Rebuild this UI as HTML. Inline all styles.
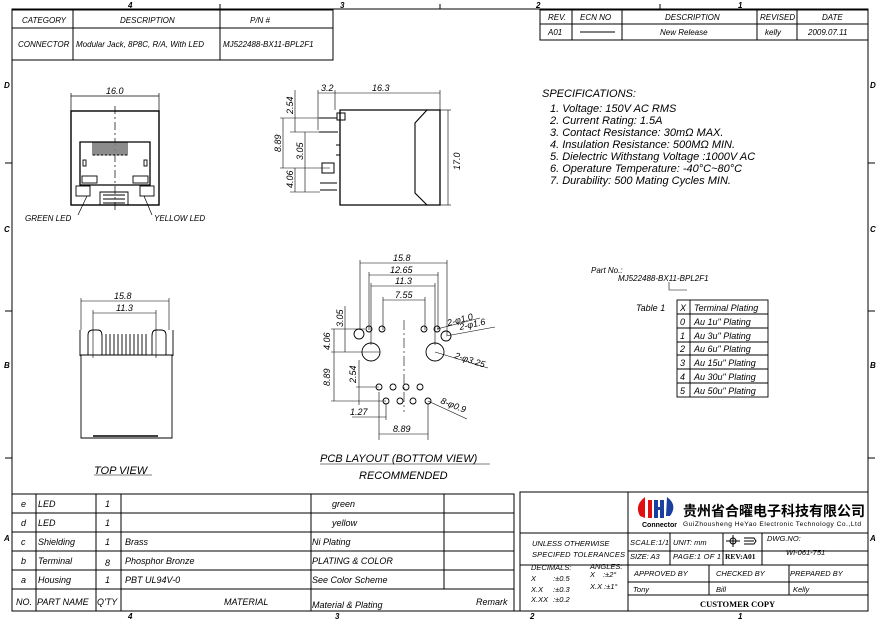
<!DOCTYPE html>
<html><head><meta charset="utf-8"><style>
html,body{margin:0;padding:0;background:#fff;}
svg{display:block;}
text{font-family:"Liberation Sans","Noto Sans CJK SC",sans-serif;font-style:italic;fill:#000;}
.n{font-style:normal;}
</style></head><body>
<svg width="880" height="622" viewBox="0 0 880 622" xmlns="http://www.w3.org/2000/svg">
<rect x="0" y="0" width="880" height="622" fill="#fff"/>
<g stroke="#000" fill="none" stroke-width="1">
<rect x="12" y="9" width="856" height="602"/>
<line x1="220" y1="4" x2="220" y2="9"/><line x1="440" y1="4" x2="440" y2="9"/><line x1="660" y1="4" x2="660" y2="9"/>
<line x1="5" y1="163" x2="12" y2="163"/><line x1="5" y1="311" x2="12" y2="311"/><line x1="5" y1="458" x2="12" y2="458"/>
<line x1="868" y1="163" x2="875" y2="163"/><line x1="868" y1="311" x2="875" y2="311"/><line x1="868" y1="458" x2="875" y2="458"/>
<rect x="12" y="10" width="321" height="50"/>
<line x1="12" y1="28" x2="333" y2="28"/>
<line x1="73" y1="10" x2="73" y2="60"/><line x1="220" y1="10" x2="220" y2="60"/>
<rect x="540" y="10" width="328" height="30"/>
<line x1="540" y1="24" x2="868" y2="24"/>
<line x1="572" y1="10" x2="572" y2="40"/><line x1="622" y1="10" x2="622" y2="40"/><line x1="757" y1="10" x2="757" y2="40"/><line x1="797" y1="10" x2="797" y2="40"/>
<line x1="580" y1="32" x2="615" y2="32"/>
<rect x="71" y="111" width="88" height="94" stroke-width="1.4"/>
<path d="M80 142 H150 V185 H80 Z" stroke-width="1.3"/>
<g stroke-width="0.9"><path d="M93 142 v13 h2 v-13 M97 142 v13 h2 v-13 M101 142 v13 h2 v-13 M105 142 v13 h2 v-13 M109 142 v13 h2 v-13 M113 142 v13 h2 v-13 M117 142 v13 h2 v-13 M121 142 v13 h2 v-13 M125 142 v13 h2 v-13"/>
<rect x="83" y="160" width="3" height="6"/><rect x="144" y="160" width="3" height="6"/>
<rect x="82" y="176" width="15" height="7"/><rect x="133" y="176" width="15" height="7"/>
<rect x="76" y="186" width="14" height="10"/><rect x="140" y="186" width="14" height="10"/>
<path d="M100 205 V192 H128 V205 M103 195 H125 M103 199 H125 M103 203 H125"/></g>
<line x1="115" y1="106" x2="115" y2="212" stroke-dasharray="8,3,2,3" stroke-width="0.7"/>
<line x1="71" y1="96" x2="159" y2="96" stroke-width="0.7"/><line x1="71" y1="93" x2="71" y2="111" stroke-width="0.7"/><line x1="159" y1="93" x2="159" y2="111" stroke-width="0.7"/>
<line x1="78" y1="215" x2="87" y2="196" stroke-width="0.7"/><line x1="152" y1="215" x2="144" y2="196" stroke-width="0.7"/>
<path d="M340 110 H440 V205 H340 Z" stroke-width="1.3"/>
<path d="M427 110 L415 123 V193 L427 205" stroke-width="1.1"/>
<path d="M337 113 H345 V120 H337 Z M319 118 H337 M319 132 H338 M336 145 H340 V155 H336 M322 163 H334 V173 H322 Z M320 183 H337 M320 190 H337" stroke-width="1"/>
<g stroke-width="0.6"><line x1="318" y1="93" x2="440" y2="93"/><line x1="318" y1="90" x2="318" y2="130"/><line x1="335" y1="90" x2="335" y2="110"/><line x1="440" y1="90" x2="440" y2="110"/>
<line x1="295" y1="90" x2="295" y2="132"/><line x1="283" y1="118" x2="283" y2="168"/><line x1="305" y1="132" x2="305" y2="192"/><line x1="295" y1="168" x2="295" y2="192"/>
<line x1="280" y1="118" x2="319" y2="118"/><line x1="280" y1="168" x2="330" y2="168"/><line x1="290" y1="192" x2="320" y2="192"/><line x1="290" y1="132" x2="319" y2="132"/>
<line x1="448" y1="110" x2="448" y2="205"/><line x1="440" y1="110" x2="451" y2="110"/><line x1="440" y1="205" x2="451" y2="205"/></g>
<g stroke-width="0.9">
<path d="M81 355 V438 H172 V355 Z"/>
<path d="M80 330 V356 M173 330 V356"/>
<path d="M88 355 V335 Q88 330 93 330 H98 Q102 330 102 336 V355 M152 355 V336 Q152 330 156 330 H161 Q166 330 166 335 V355"/>
<path d="M106 334 v21 M110 334 v21 M114 334 v21 M118 334 v21 M122 334 v21 M126 334 v21 M130 334 v21 M134 334 v21 M138 334 v21 M142 334 v21 M146 334 v21"/>
<line x1="93" y1="436" x2="158" y2="436" stroke-width="1.5"/>
</g>
<g stroke-width="0.6"><line x1="81" y1="301" x2="169" y2="301"/><line x1="93" y1="313" x2="156" y2="313"/><line x1="81" y1="298" x2="81" y2="330"/><line x1="169" y1="298" x2="169" y2="330"/><line x1="93" y1="310" x2="93" y2="358"/><line x1="156" y1="310" x2="156" y2="358"/>
<line x1="94" y1="475" x2="152" y2="475"/></g>
<g stroke-width="0.6">
<line x1="360" y1="263" x2="447" y2="263"/><line x1="369" y1="275" x2="438" y2="275"/><line x1="371" y1="286" x2="435" y2="286"/><line x1="383" y1="300" x2="425" y2="300"/>
<line x1="360" y1="260" x2="360" y2="330"/><line x1="447" y1="260" x2="447" y2="335"/><line x1="369" y1="272" x2="369" y2="330"/><line x1="438" y1="272" x2="438" y2="330"/>
<line x1="371" y1="283" x2="371" y2="345"/><line x1="435" y1="283" x2="435" y2="345"/><line x1="383" y1="297" x2="383" y2="330"/><line x1="425" y1="297" x2="425" y2="330"/>
<line x1="331" y1="329" x2="365" y2="329"/><line x1="331" y1="352" x2="380" y2="352"/><line x1="331" y1="401" x2="386" y2="401"/>
<line x1="345" y1="306" x2="345" y2="352"/><line x1="334" y1="329" x2="334" y2="401"/>
<line x1="359" y1="360" x2="359" y2="405"/><line x1="356" y1="387" x2="379" y2="387"/>
<line x1="352" y1="417" x2="386" y2="417"/><line x1="379" y1="392" x2="379" y2="440"/><line x1="386" y1="404" x2="386" y2="420"/><line x1="428" y1="404" x2="428" y2="440"/><line x1="379" y1="434" x2="428" y2="434"/>
<line x1="404" y1="320" x2="404" y2="412" stroke-dasharray="10,3,2,3"/>
<line x1="437" y1="329" x2="480" y2="318"/><line x1="446" y1="336" x2="495" y2="327"/><line x1="435" y1="352" x2="488" y2="368"/><line x1="428" y1="401" x2="467" y2="419"/>
<line x1="320" y1="464" x2="490" y2="464"/>
</g>
<g stroke-width="0.9">
<circle cx="369" cy="329" r="3"/><circle cx="382" cy="329" r="3"/><circle cx="424" cy="329" r="3"/><circle cx="437" cy="329" r="3"/>
<circle cx="359" cy="334" r="5"/><circle cx="446" cy="336" r="5"/>
<circle cx="371" cy="352" r="9"/><circle cx="435" cy="352" r="9"/>
<circle cx="379" cy="387" r="3"/><circle cx="393" cy="387" r="3"/><circle cx="406" cy="387" r="3"/><circle cx="420" cy="387" r="3"/>
<circle cx="386" cy="401" r="3"/><circle cx="400" cy="401" r="3"/><circle cx="413" cy="401" r="3"/><circle cx="428" cy="401" r="3"/>
</g>
<g stroke-width="0.9"><rect x="677" y="300" width="91" height="97"/>
<line x1="677" y1="314" x2="768" y2="314"/><line x1="677" y1="328" x2="768" y2="328"/><line x1="677" y1="342" x2="768" y2="342"/><line x1="677" y1="355" x2="768" y2="355"/><line x1="677" y1="369" x2="768" y2="369"/><line x1="677" y1="383" x2="768" y2="383"/><line x1="690" y1="300" x2="690" y2="397"/>
<path d="M669 282 V290 H687" stroke-width="0.6"/></g>
<rect x="12" y="494" width="502" height="117"/>
<line x1="12" y1="513" x2="514" y2="513"/><line x1="12" y1="532" x2="514" y2="532"/><line x1="12" y1="551" x2="514" y2="551"/><line x1="12" y1="570" x2="514" y2="570"/><line x1="12" y1="589" x2="514" y2="589"/>
<line x1="36" y1="494" x2="36" y2="611"/><line x1="96" y1="494" x2="96" y2="611"/><line x1="121" y1="494" x2="121" y2="611"/><line x1="311" y1="494" x2="311" y2="611"/><line x1="444" y1="494" x2="444" y2="589"/>
<rect x="520" y="492" width="348" height="119"/>
<line x1="628" y1="492" x2="628" y2="611"/>
<line x1="520" y1="533" x2="868" y2="533"/><line x1="628" y1="551" x2="868" y2="551"/><line x1="520" y1="565" x2="868" y2="565"/><line x1="628" y1="582" x2="868" y2="582"/><line x1="628" y1="595" x2="868" y2="595"/>
<line x1="670" y1="533" x2="670" y2="565"/><line x1="723" y1="533" x2="723" y2="565"/><line x1="762" y1="533" x2="762" y2="565"/>
<line x1="709" y1="565" x2="709" y2="595"/><line x1="789" y1="565" x2="789" y2="595"/>
<circle cx="733" cy="541" r="3"/><line x1="726" y1="541" x2="740" y2="541"/><line x1="733" y1="535" x2="733" y2="547"/><path d="M744 538 H754 L756 541 L754 544 H744 M744 541 H754"/>
</g>
<path d="M645 497 Q634 505 640 516 L645 518 Z" fill="#e01010"/>
<rect x="648" y="500" width="4" height="18" fill="#e01010"/><rect x="654" y="500" width="4" height="18" fill="#1a3fa0"/><rect x="660" y="500" width="4" height="18" fill="#1a3fa0"/><rect x="654" y="507" width="10" height="3" fill="#1a3fa0"/>
<path d="M667 497 Q678 505 670 516 L666 516 Z" fill="#1a3fa0"/>
<text x="642" y="527" font-size="7" font-weight="bold" style="font-style:normal">Connector</text>
<text x="683" y="516" font-size="14" font-weight="bold" style="font-style:normal;font-family:'Noto Sans CJK SC',sans-serif">贵州省合曜电子科技有限公司</text>
<text x="683" y="526" font-size="6.6" style="font-style:normal" fill="#333" textLength="178">GuiZhousheng HeYao Electronic Technology Co.,Ltd</text>
<g font-size="8">
<text x="4" y="88" font-weight="bold">D</text><text x="4" y="232" font-weight="bold">C</text><text x="4" y="368" font-weight="bold">B</text><text x="4" y="541" font-weight="bold">A</text>
<text x="870" y="88" font-weight="bold">D</text><text x="870" y="232" font-weight="bold">C</text><text x="870" y="368" font-weight="bold">B</text><text x="870" y="541" font-weight="bold">A</text>
<text x="128" y="8" font-weight="bold">4</text><text x="340" y="8" font-weight="bold">3</text><text x="536" y="8" font-weight="bold">2</text><text x="738" y="8" font-weight="bold">1</text>
<text x="128" y="619" font-weight="bold">4</text><text x="335" y="619" font-weight="bold">3</text><text x="530" y="619" font-weight="bold">2</text><text x="738" y="619" font-weight="bold">1</text>
<text x="22" y="23">CATEGORY</text><text x="120" y="23">DESCRIPTION</text><text x="250" y="23">P/N #</text>
<text x="18" y="47">CONNECTOR</text><text x="76" y="47">Modular Jack, 8P8C, R/A, With LED</text><text x="223" y="47">MJ522488-BX11-BPL2F1</text>
<text x="548" y="20">REV.</text><text x="580" y="20">ECN NO</text><text x="665" y="20">DESCRIPTION</text><text x="760" y="20">REVISED</text><text x="822" y="20">DATE</text>
<text x="548" y="35">A01</text><text x="660" y="35">New Release</text><text x="765" y="35">kelly</text><text x="808" y="35">2009.07.11</text>
</g>
<g font-size="9" style="font-style:normal">
<text x="106" y="94">16.0</text><text x="321" y="91">3.2</text><text x="372" y="91">16.3</text>
<text transform="translate(293 114) rotate(-90)">2.54</text><text transform="translate(281 152) rotate(-90)">8.89</text><text transform="translate(303 160) rotate(-90)">3.05</text><text transform="translate(293 188) rotate(-90)">4.06</text><text transform="translate(460 170) rotate(-90)">17.0</text>
<text x="114" y="299">15.8</text><text x="116" y="311">11.3</text>
<text x="393" y="261">15.8</text><text x="390" y="273">12.65</text><text x="395" y="284">11.3</text><text x="395" y="298">7.55</text>
<text transform="translate(343 327) rotate(-90)">3.05</text><text transform="translate(330 350) rotate(-90)">4.06</text><text transform="translate(330 386) rotate(-90)">8.89</text><text transform="translate(356 383) rotate(-90)">2.54</text>
<text x="350" y="415">1.27</text><text x="393" y="432">8.89</text>
<text transform="translate(448 326) rotate(-15)">2-φ1.0</text><text transform="translate(460 330) rotate(-12)">2-φ1.6</text><text transform="translate(454 358) rotate(18)">2-φ3.25</text><text transform="translate(440 403) rotate(22)">8-φ0.9</text>
</g>
<g font-size="8" style="font-style:normal">
<text x="25" y="221">GREEN LED</text><text x="154" y="221">YELLOW LED</text>
</g>
<g font-size="11" style="font-style:normal">
<text x="94" y="474">TOP VIEW</text><text x="320" y="462">PCB LAYOUT (BOTTOM VIEW)</text><text x="359" y="479">RECOMMENDED</text>
</g>
<g font-size="11">
<text x="542" y="97">SPECIFICATIONS:</text>
<text x="550" y="112">1. Voltage: 150V AC RMS</text>
<text x="550" y="124">2. Current Rating: 1.5A</text>
<text x="550" y="136">3. Contact Resistance: 30mΩ MAX.</text>
<text x="550" y="148">4. Insulation Resistance: 500MΩ MIN.</text>
<text x="550" y="160">5. Dielectric Withstang Voltage :1000V AC</text>
<text x="550" y="172">6. Operature Temperature: -40°C~80°C</text>
<text x="550" y="184">7. Durability: 500 Mating Cycles MIN.</text>
</g>
<g font-size="8">
<text x="591" y="273">Part No.:</text><text x="618" y="281">MJ522488-BX11-BPL2F1</text>
<text x="636" y="311" font-size="9">Table 1</text>
<text x="680" y="311" font-size="9">X</text><text x="694" y="311" font-size="9">Terminal Plating</text>
<text x="680" y="325" font-size="9">0</text><text x="694" y="325" font-size="9">Au 1u" Plating</text>
<text x="680" y="339" font-size="9">1</text><text x="694" y="339" font-size="9">Au 3u" Plating</text>
<text x="680" y="352" font-size="9">2</text><text x="694" y="352" font-size="9">Au 6u" Plating</text>
<text x="680" y="366" font-size="9">3</text><text x="694" y="366" font-size="9">Au 15u" Plating</text>
<text x="680" y="380" font-size="9">4</text><text x="694" y="380" font-size="9">Au 30u" Plating</text>
<text x="680" y="394" font-size="9">5</text><text x="694" y="394" font-size="9">Au 50u" Plating</text>
</g>
<g font-size="9">
<text x="21" y="507">e</text><text x="38" y="507">LED</text><text x="105" y="507">1</text><text x="332" y="507">green</text>
<text x="21" y="526">d</text><text x="38" y="526">LED</text><text x="105" y="526">1</text><text x="332" y="526">yellow</text>
<text x="21" y="545">c</text><text x="38" y="545">Shielding</text><text x="105" y="545">1</text><text x="125" y="545">Brass</text><text x="312" y="545">Ni Plating</text>
<text x="21" y="564">b</text><text x="38" y="564">Terminal</text><text x="105" y="566">8</text><text x="125" y="564">Phosphor Bronze</text><text x="312" y="564">PLATING &amp; COLOR</text>
<text x="21" y="583">a</text><text x="38" y="583">Housing</text><text x="105" y="583">1</text><text x="125" y="583">PBT UL94V-0</text><text x="312" y="583">See Color Scheme</text>
<text x="16" y="605">NO.</text><text x="37" y="605">PART NAME</text><text x="97" y="605">Q'TY</text><text x="224" y="605">MATERIAL</text><text x="312" y="608">Material &amp; Plating</text><text x="476" y="605">Remark</text>
</g>
<g font-size="7.5">
<text x="532" y="546">UNLESS OTHERWISE</text><text x="532" y="557" textLength="93">SPECIFED TOLERANCES</text>
<text x="531" y="570">DECIMALS:</text><text x="590" y="569">ANGLES:</text>
<text x="531" y="581">X</text><text x="553" y="581">:±0.5</text><text x="590" y="577">X</text><text x="603" y="577">:±2°</text>
<text x="531" y="592">X.X</text><text x="553" y="592">:±0.3</text><text x="590" y="589">X.X :±1°</text>
<text x="531" y="602">X.XX</text><text x="553" y="602">:±0.2</text>
<text x="630" y="545" textLength="39">SCALE:1/1</text><text x="673" y="545">UNIT: mm</text><text x="767" y="541">DWG.NO:</text>
<text x="630" y="559">SIZE: A3</text><text x="673" y="559" textLength="48">PAGE:1 OF 1</text><text x="725" y="559" font-weight="bold" style="font-family:'Liberation Serif',serif;font-style:normal">REV:A01</text><text x="786" y="555">WI-061-751</text>
<text x="634" y="576">APPROVED BY</text><text x="716" y="576">CHECKED BY</text><text x="790" y="576">PREPARED BY</text>
<text x="633" y="592">Tony</text><text x="716" y="592">Bill</text><text x="793" y="592">Kelly</text>
<text x="700" y="607" font-size="8.5" font-weight="bold" style="font-family:'Liberation Serif',serif;font-style:normal">CUSTOMER COPY</text>
</g>
</svg>
</body></html>
